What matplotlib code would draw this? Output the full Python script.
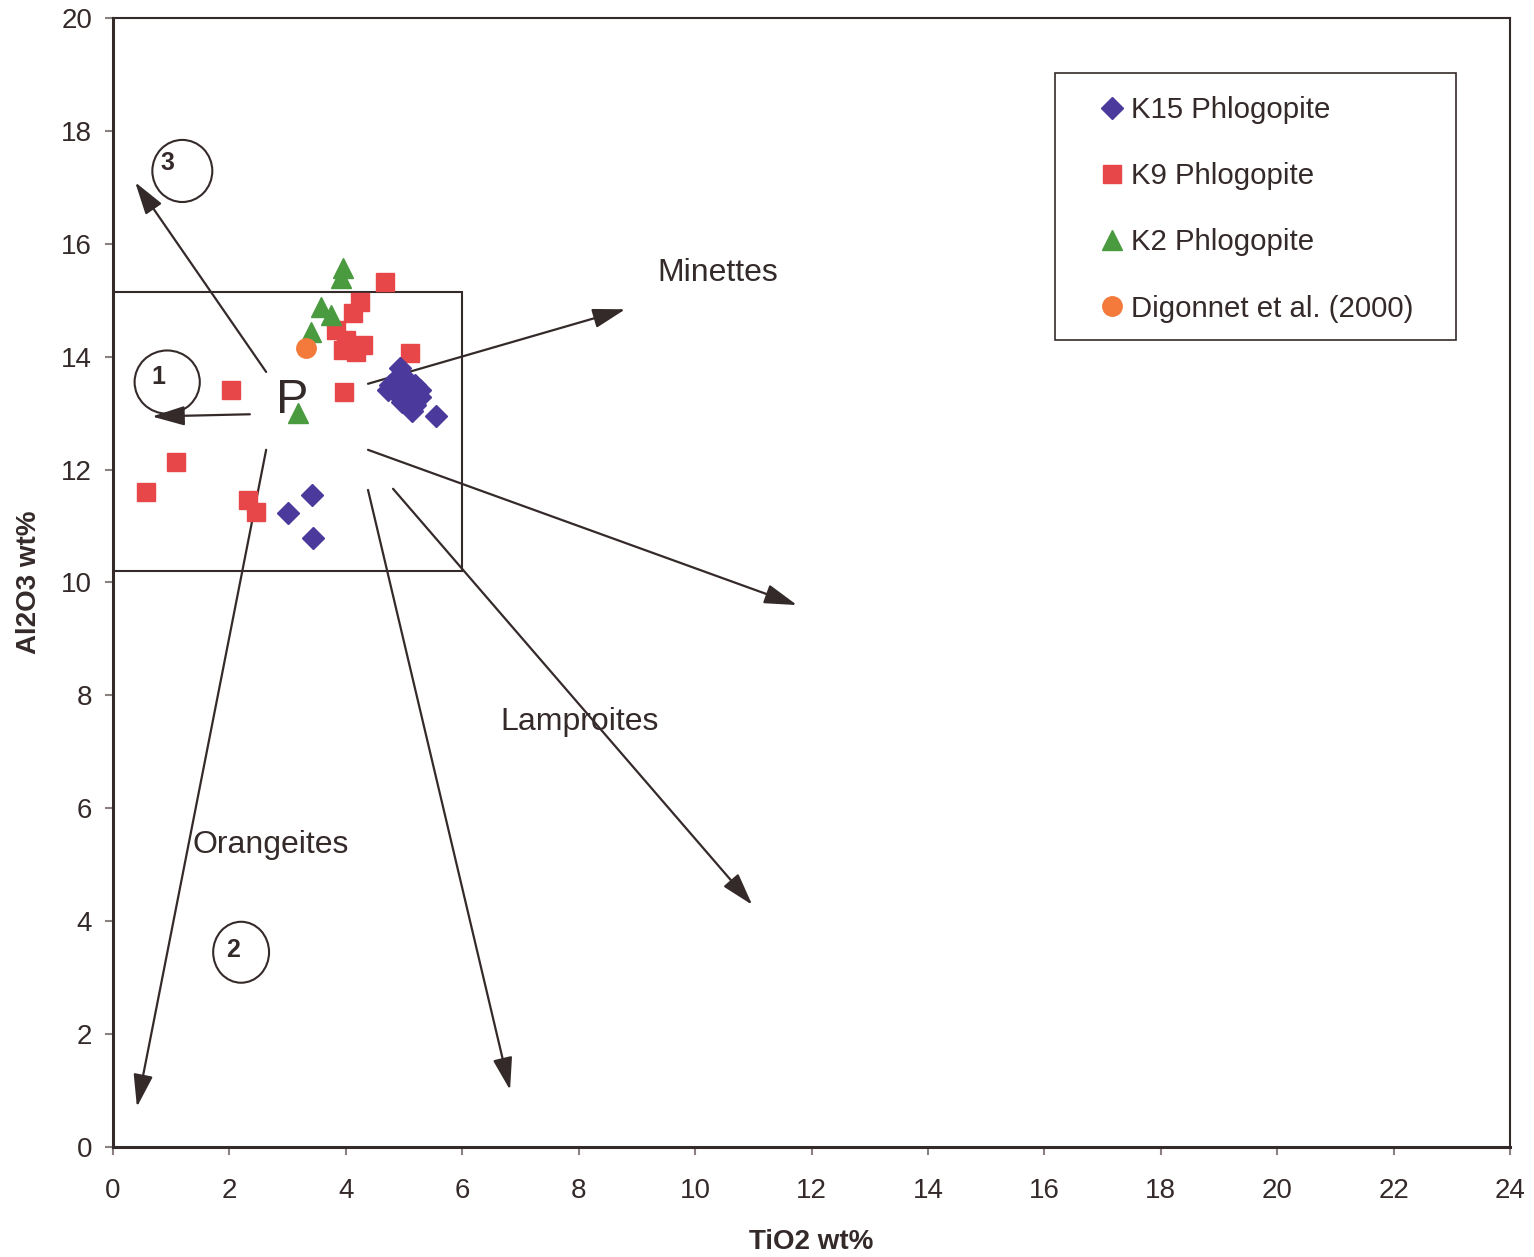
import matplotlib.pyplot as plt
from matplotlib.patches import Ellipse, Rectangle

plt.rcParams['font.family'] = ['Liberation Sans', 'DejaVu Sans']

# K15 Phlogopite (TiO2, Al2O3)
k15_x = [4.93, 5.02, 4.84, 4.72, 4.76, 5.02, 5.19, 5.27, 4.90, 5.10, 4.96, 5.19,
         5.27, 5.14, 5.55, 3.42, 3.00, 3.44]
k15_y = [13.80, 13.62, 13.59, 13.41, 13.50, 13.45, 13.50, 13.41, 13.32, 13.27, 13.20,
         13.15, 13.29, 13.04, 12.95, 11.55, 11.23, 10.79]

# K9 Phlogopite
k9_x = [4.67, 4.24, 4.12, 3.83, 4.00, 3.95, 4.29, 4.17, 5.10, 3.97, 2.03, 1.08,
        0.57, 2.32, 2.46]
k9_y = [15.32, 14.97, 14.77, 14.47, 14.30, 14.12, 14.21, 14.08, 14.07, 13.37, 13.41,
        12.13, 11.60, 11.46, 11.25]

# K2 Phlogopite
k2_x = [3.95, 3.92, 3.57, 3.75, 3.40, 3.18]
k2_y = [15.57, 15.39, 14.88, 14.74, 14.44, 13.00]

# Digonnet et al. (2000)
dig_x = [3.32]
dig_y = [14.15]

# trend arrows: (start, end)
arrows = [
    ((2.63, 13.73), (0.38, 17.09)),
    ((2.35, 12.98), (0.67, 12.94)),
    ((2.63, 12.35), (0.41, 0.71)),
    ((4.38, 13.52), (8.80, 14.84)),
    ((4.38, 12.35), (11.75, 9.60)),
    ((4.38, 11.64), (6.82, 1.01)),
    ((4.81, 11.66), (10.98, 4.29)),
]

# numbered circles: label, text pos, circle centre, width, height
circles = [
    ('3', (0.94, 17.43), (1.19, 17.29), 1.03, 1.10),
    ('1', (0.77, 13.64), (0.93, 13.55), 1.12, 1.12),
    ('2', (2.06, 3.49), (2.20, 3.45), 0.96, 1.08),
]

field_labels = ['Minettes', 'Lamproites', 'Orangeites']
field_pos = [(10.39, 15.48), (8.02, 7.53), (2.70, 5.35)]

ink = '#352a2a'

fig = plt.figure(figsize=(15.34, 12.57), dpi=100)
ax = fig.add_axes([0.0737, 0.0875, 0.9107, 0.8982])

ax.set_xlim(0, 24)
ax.set_ylim(0, 20)
ax.set_xticks(range(0, 25, 2))
ax.set_yticks(range(0, 21, 2))
ax.tick_params(labelsize=20, colors='#8a8080', labelcolor=ink, length=6, width=1.5)
ax.tick_params(axis='x', pad=16)
ax.tick_params(axis='y', pad=9)

for side in ['left', 'bottom']:
    ax.spines[side].set_linewidth(2.2)
    ax.spines[side].set_color(ink)
for side in ['top', 'right']:
    ax.spines[side].set_linewidth(1.5)
    ax.spines[side].set_color(ink)

ax.add_patch(Rectangle((0, 10.2), 6.0, 4.95, fill=False, ec=ink, lw=1.5, zorder=2))

for (x0, y0), (x1, y1) in arrows:
    ax.annotate('', xy=(x1, y1), xytext=(x0, y0),
                arrowprops=dict(arrowstyle='-|>,head_length=1.0,head_width=0.3',
                                mutation_scale=20, lw=1.6, color=ink,
                                shrinkA=0, shrinkB=0), zorder=2)

for lab, tpos, cpos, w, h in circles:
    ax.add_patch(Ellipse(cpos, w, h, fill=False, ec=ink, lw=1.5, zorder=2))
    ax.text(tpos[0], tpos[1], lab, fontsize=18, fontweight='bold', color=ink,
            ha='center', va='center', zorder=3)

for lab, (tx, ty) in zip(field_labels, field_pos):
    ax.text(tx, ty, lab, fontsize=23, color=ink, ha='center', va='center', zorder=3)

ax.text(3.08, 13.23, 'P', fontsize=35, color=ink, ha='center', va='center', zorder=3)

ax.plot(k9_x, k9_y, 's', ms=13, color='#e8474a', mec='#e8474a', ls='none',
        label='K9 Phlogopite', zorder=4)
ax.plot(k2_x, k2_y, '^', ms=15, color='#4a9a40', mec='#4a9a40', ls='none',
        label='K2 Phlogopite', zorder=4)
ax.plot(dig_x, dig_y, 'o', ms=14, color='#f47a3c', mec='#f47a3c', ls='none',
        label='Digonnet et al. (2000)', zorder=4)
ax.plot(k15_x, k15_y, 'D', ms=11, color='#4b3a9c', mec='#4b3a9c', ls='none',
        label='K15 Phlogopite', zorder=5)

# legend frame drawn separately so the handles can sit further in
ax.add_patch(Rectangle((0.674, 0.715), 0.287, 0.236, transform=ax.transAxes,
                       fill=True, fc='white', ec=ink, lw=1.2, zorder=6))
handles, labels = ax.get_legend_handles_labels()
order = [3, 0, 1, 2]
leg = ax.legend([handles[i] for i in order], [labels[i] for i in order],
                loc='upper left', bbox_to_anchor=(0.7065, 0.931),
                fontsize=21.2, labelspacing=1.3, handlelength=0.8,
                handletextpad=0.25, borderpad=0, borderaxespad=0, frameon=False,
                markerscale=1.0)
leg.set_zorder(7)
for t in leg.get_texts():
    t.set_color(ink)

ax.set_xlabel('TiO2 wt%', fontsize=20, fontweight='bold', color=ink, labelpad=18)
ax.set_ylabel('Al2O3 wt%', fontsize=20, fontweight='bold', color=ink, labelpad=14)

fig.savefig('out.png', dpi=100, facecolor='white')
